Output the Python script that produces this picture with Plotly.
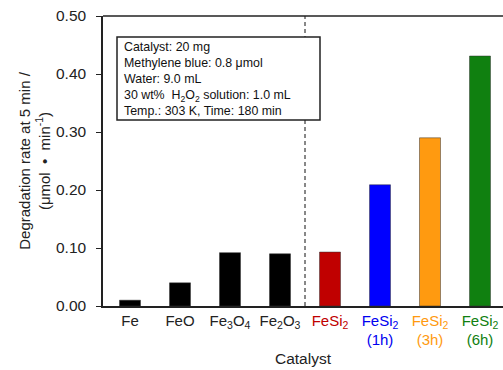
import plotly.graph_objects as go

categories = ["Fe", "FeO", "Fe3O4", "Fe2O3", "FeSi2", "FeSi2 (1h)", "FeSi2 (3h)", "FeSi2 (6h)"]
tick_labels = [
    "Fe", "FeO", "Fe<sub>3</sub>O<sub>4</sub>", "Fe<sub>2</sub>O<sub>3</sub>",
    "<span style='color:#C00000'>FeSi<sub>2</sub></span>",
    "<span style='color:#0000F0'>FeSi<sub>2</sub><br>(1h)</span>",
    "<span style='color:#FF9A10'>FeSi<sub>2</sub><br>(3h)</span>",
    "<span style='color:#108010'>FeSi<sub>2</sub><br>(6h)</span>",
]
values = [0.010, 0.040, 0.092, 0.090, 0.093, 0.209, 0.290, 0.431]
colors = ["#000000", "#000000", "#000000", "#000000", "#C00000", "#0000FF", "#FF9A10", "#108010"]

x_idx = list(range(len(categories)))

fig = go.Figure()
fig.add_trace(go.Bar(
    x=x_idx, y=values, width=0.42,
    marker=dict(color=colors, line=dict(color="#333333", width=0.5)),
))

fig.add_shape(type="line", xref="x", yref="paper", x0=3.5, x1=3.5, y0=0, y1=1,
              line=dict(color="#111111", width=1, dash="4px,3px"))
fig.add_shape(type="line", xref="paper", yref="paper", x0=0, x1=1, y0=1, y1=1,
              line=dict(color="#222222", width=1.5))
fig.add_shape(type="rect", xref="x", yref="y", x0=-0.26, x1=3.8, y0=0.3207, y1=0.4638,
              line=dict(color="#222222", width=1.5), fillcolor="white")

fig.add_annotation(
    xref="x", yref="y", x=-0.15, y=0.392, xanchor="left", yanchor="middle",
    text=("Catalyst: 20 mg<br>Methylene blue: 0.8 μmol<br>Water: 9.0 mL<br>"
          "30 wt%  H<sub>2</sub>O<sub>2</sub> solution: 1.0 mL<br>Temp.: 303 K, Time: 180 min"),
    align="left", showarrow=False, font=dict(size=12.4, color="#111111", family="Liberation Sans, Arial"),
    borderpad=0,
)

fig.update_layout(
    width=503, height=370,
    margin=dict(l=103, r=0, t=16, b=64),
    plot_bgcolor="white", paper_bgcolor="white",
    showlegend=False,
    font=dict(family="Liberation Sans, Arial", size=15, color="#222222"),
    xaxis=dict(
        range=[-0.54, 7.46], tickvals=x_idx, ticktext=tick_labels,
        showline=True, linecolor="#222222", linewidth=1.5, ticks="",
        showgrid=False, zeroline=False, tickfont=dict(size=15),
        title=dict(text="Catalyst", font=dict(size=15.5), standoff=6),
    ),
    yaxis=dict(
        range=[0, 0.5], tickvals=[0, 0.1, 0.2, 0.3, 0.4, 0.5], tickformat=".2f",
        showline=True, linecolor="#222222", linewidth=1.5, ticks="outside", ticklen=5,
        tickcolor="#222222", showgrid=False, zeroline=False, tickfont=dict(size=15.5),
        ticklabelstandoff=7,
        title=dict(text="Degradation rate at 5 min /<br>(μmol  •  min<sup>-1</sup>)",
                   font=dict(size=15), standoff=2),
    ),
)

fig.write_html("out.html")
